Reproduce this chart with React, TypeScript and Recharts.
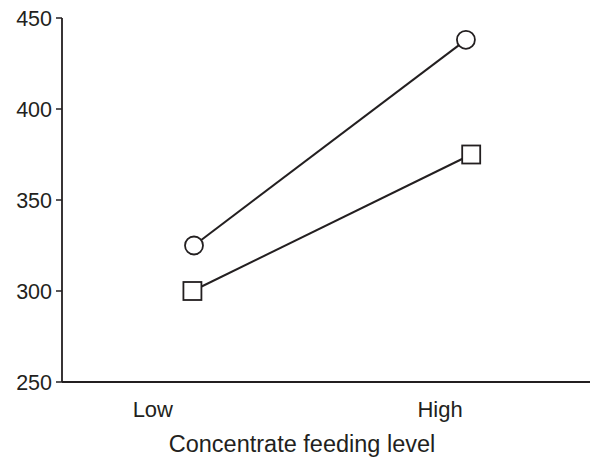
import React from 'react';
import { LineChart, Line, XAxis, YAxis, Label } from 'recharts';

// x positions are in axis units (0-10 across the plot)
const levels = ['Low', 'High'];
const levelTicks = [1.72, 7.16];
const circleX = [2.5, 7.65];
const circleY = [325, 438];
const squareX = [2.47, 7.75];
const squareY = [300, 375];
const yTicks = [250, 300, 350, 400, 450];

const ink = '#231f20';
const font = '"Liberation Sans", Arial, sans-serif';

const circleData = circleX.map((x, i) => ({ x, y: circleY[i] }));
const squareData = squareX.map((x, i) => ({ x, y: squareY[i] }));

const SquareDot = (props: any) => {
  const { cx, cy, index } = props;
  if (cx == null || cy == null) return null;
  return (
    <rect
      key={`sq-${index}`}
      x={cx - 9}
      y={cy - 9}
      width={18}
      height={18}
      fill="#fff"
      stroke={ink}
      strokeWidth={1.8}
    />
  );
};

export default function App() {
  return (
    <div style={{ position: 'absolute', left: 0, top: 0, background: '#fff' }}>
      <LineChart
        width={593}
        height={458}
        margin={{ top: 18, right: 3, bottom: 0, left: 0 }}
      >
        <XAxis
          type="number"
          dataKey="x"
          domain={[0, 10]}
          ticks={levelTicks}
          tickFormatter={(v: number) => levels[levelTicks.indexOf(v)] ?? ''}
          height={76}
          tickLine={false}
          tickSize={6}
          tickMargin={13}
          axisLine={{ stroke: ink, strokeWidth: 1.8 }}
          tick={{ fill: ink, fontSize: 22, fontFamily: font }}
        >
          <Label
            value="Concentrate feeding level"
            position="insideBottom"
            offset={6}
            dx={-24}
            style={{ fill: ink, fontSize: 23.5, fontFamily: font }}
          />
        </XAxis>
        <YAxis
          type="number"
          dataKey="y"
          domain={[250, 450]}
          ticks={yTicks}
          width={62}
          tickSize={6}
          tickMargin={4}
          tickLine={{ stroke: ink, strokeWidth: 1.5 }}
          axisLine={{ stroke: ink, strokeWidth: 1.8 }}
          tick={{ fill: ink, fontSize: 21.5, fontFamily: font }}
        />
        <Line
          data={circleData}
          dataKey="y"
          stroke={ink}
          strokeWidth={2}
          isAnimationActive={false}
          dot={{ r: 9, fill: '#fff', stroke: ink, strokeWidth: 1.8 }}
          activeDot={false}
        />
        <Line
          data={squareData}
          dataKey="y"
          stroke={ink}
          strokeWidth={2}
          isAnimationActive={false}
          dot={SquareDot}
          activeDot={false}
        />
      </LineChart>
    </div>
  );
}
